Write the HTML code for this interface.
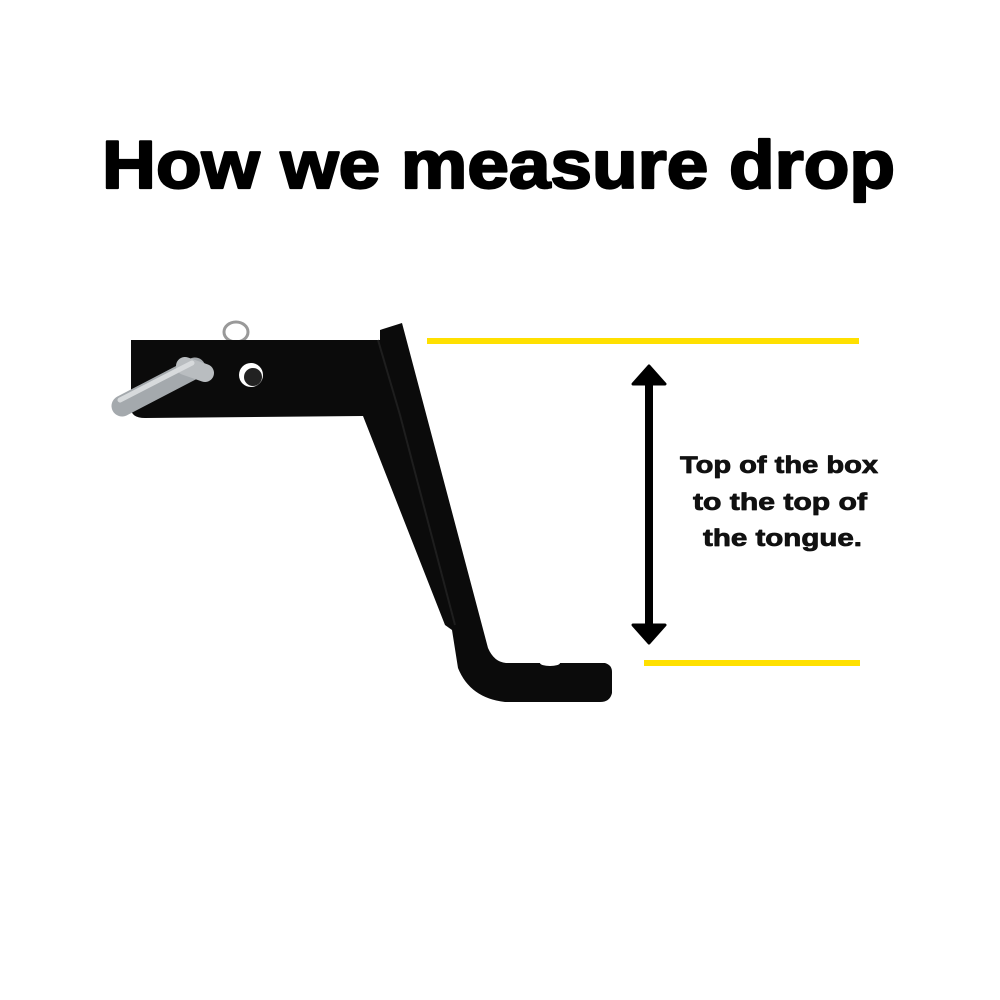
<!DOCTYPE html>
<html><head><meta charset="utf-8"><style>
html,body{margin:0;padding:0;background:#fff;width:1000px;height:1000px;overflow:hidden}
</style></head><body>
<svg width="1000" height="1000" viewBox="0 0 1000 1000" xmlns="http://www.w3.org/2000/svg">
<rect width="1000" height="1000" fill="#fff"/>
<text x="102" y="188" font-family="Liberation Sans, sans-serif" font-weight="bold" font-size="68" textLength="793" lengthAdjust="spacingAndGlyphs" fill="#000" stroke="#000" stroke-width="2.2" stroke-linejoin="round">How we measure drop</text>

<!-- ring -->
<ellipse cx="236" cy="332" rx="12" ry="10" fill="none" stroke="#999" stroke-width="3"/>
<!-- hitch body -->
<path d="M131,340 L380,340 L380,330 L402,323 L488,648 Q494,662 506,663 L605,663 Q612,665 612,672 L612,693 Q610,702 600,702 L505,702 Q470,698 458,668 L452,630 L445,625 L363,416 L145,418 Q131,418 131,408 Z" fill="#0b0b0b"/>
<path d="M378,340 L400,415 L455,625" stroke="#1e1e1e" stroke-width="2" fill="none"/>
<!-- hole -->
<circle cx="251" cy="375" r="12" fill="#fff"/>
<circle cx="253" cy="377" r="9" fill="#222"/>
<ellipse cx="550" cy="663" rx="10" ry="3" fill="#fff"/>
<!-- pin -->
<path d="M122,406 L195,368" stroke="#a4a9ad" stroke-width="21" stroke-linecap="round"/>
<path d="M185,366 L205,373" stroke="#b9bdc0" stroke-width="18" stroke-linecap="round"/>
<path d="M120,400 L192,363" stroke="#d7dadc" stroke-width="5" stroke-linecap="round"/>

<!-- yellow lines -->
<rect x="427" y="338" width="432" height="6" fill="#ffe000"/>
<rect x="644" y="660" width="216" height="6" fill="#ffe000"/>
<!-- arrow -->
<rect x="645" y="380" width="8" height="250" fill="#000"/>
<path d="M649,366 L665,384 L633,384 Z" fill="#000" stroke="#000" stroke-width="3" stroke-linejoin="round"/>
<path d="M649,643 L665,625 L633,625 Z" fill="#000" stroke="#000" stroke-width="3" stroke-linejoin="round"/>

<g font-family="Liberation Sans, sans-serif" font-weight="bold" font-size="24" fill="#111" stroke="#111" stroke-width="0.8" stroke-linejoin="round">
<text x="680" y="473" textLength="198" lengthAdjust="spacingAndGlyphs">Top of the box</text>
<text x="693" y="510" textLength="174" lengthAdjust="spacingAndGlyphs">to the top of</text>
<text x="703" y="546" textLength="159" lengthAdjust="spacingAndGlyphs">the tongue.</text>
</g>
</svg>
</body></html>
